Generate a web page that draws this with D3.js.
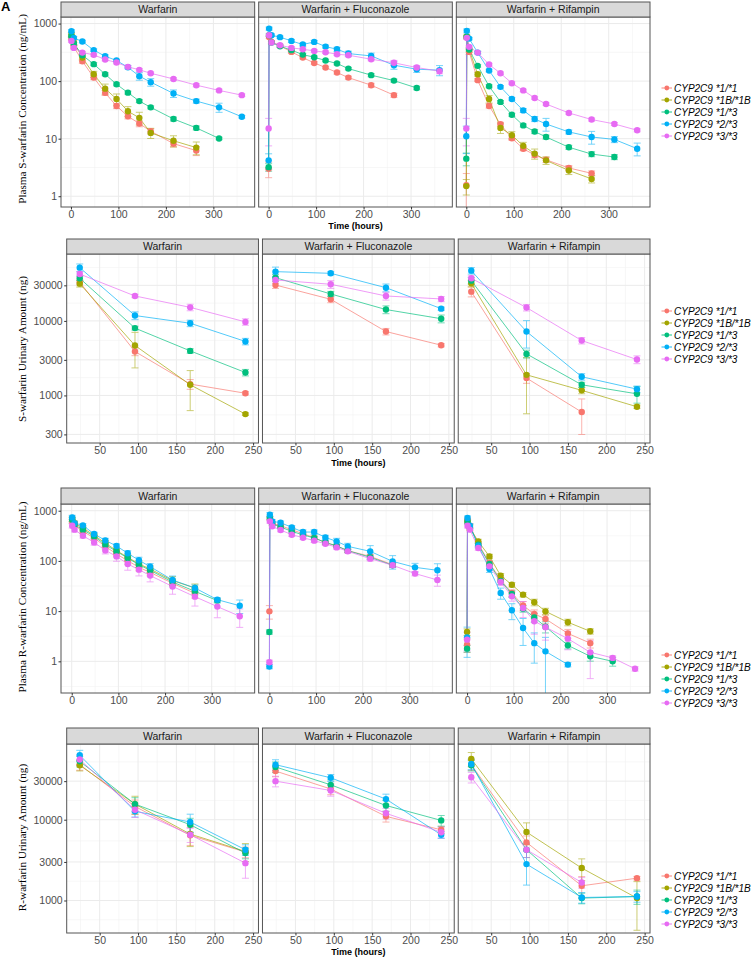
<!DOCTYPE html>
<html><head><meta charset="utf-8">
<script src="https://cdn.jsdelivr.net/npm/d3@7"></script>
<style>body{margin:0;background:#fff}svg{display:block}</style>
</head><body>
<svg id="chart" width="752" height="961"></svg>
<script>
// ---------- DATA ----------
const genotypes = ["CYP2C9 *1/*1", "CYP2C9 *1B/*1B", "CYP2C9 *1/*3", "CYP2C9 *2/*3", "CYP2C9 *3/*3"];
const colors = ["#F8766D", "#A3A500", "#00BF7D", "#00B0F6", "#E76BF3"];
const facets = ["Warfarin", "Warfarin + Fluconazole", "Warfarin + Rifampin"];
const plasmaTimes = [0, 1, 6, 24, 48, 72, 96, 120, 144, 168, 216, 264, 312, 360];
const urineTimes = [24, 96, 168, 240];
const plasmaXTicks = [0, 100, 200, 300];
const urineXTicks = [50, 100, 150, 200, 250];
const plasmaYTicks = [1, 10, 100, 1000];
const sUrineYTicks = [300, 1000, 3000, 10000, 30000];
const rUrineYTicks = [1000, 3000, 10000, 30000];
const yTitles = ["Plasma S-warfarin Concentration (ng/mL)", "S-warfarin Urinary Amount (ng)",
                 "Plasma R-warfarin Concentration (ng/mL)", "R-warfarin Urinary Amount (ng)"];

// Row 1: plasma S-warfarin (ng/mL), series order = genotypes
const sPlasmaWarfarin = [
  [null, 550, 394, 222, 115, 62.5, 37, 24.5, 18.3, 13.5, 8.2, 6.2, null, null],
  [null, 644, 468, 256, 132, 74, 49, 30, 23, 12.6, 9.2, 7.0, null, null],
  [null, 603, 450, 282, 197, 132, 88, 63, 45, 35, 22, 15.4, 10.1, null],
  [null, 736, 564, 487, 345, 271, 228, 174, 122, 96, 61, 45, 35, 24],
  [null, 500, 378, 313, 286, 237, 210, 177, 157, 137, 109, 85, 69, 57]];
const sPlasmaFluconazole = [
  [3.0, 586, 480, 410, 322, 256, 207, 172, 141, 115, 85, 57, null, null],
  [],
  [3.2, 627, 468, 404, 345, 289, 260, 228, 202, 165, 127, 102, 76, null],
  [4.2, 818, 627, 580, 500, 432, 480, 398, 358, 301, 274, 189, 161, 155],
  [15, 627, 468, 421, 378, 358, 335, 318, 293, 282, 240, 208, 172, 149]];
const sPlasmaRifampin = [
  [1.55, 571, 322, 104, 37, 17.8, 10.2, 6.7, 5.2, 4.3, 3.1, 2.5, null, null],
  [1.5, 600, 353, 132, 49, 15.4, 11.5, 7.5, 5.5, 4.2, 2.8, 2.0, null, null],
  [4.5, 586, 353, 184, 81.5, 43.5, 26, 17, 13.3, 10.7, 7.1, 5.4, 4.8, null],
  [11, 747, 548, 313, 153, 79.5, 49, 31, 22, 18, 13.1, 10.7, 9.7, 6.7],
  [15, 564, 394, 313, 194, 137, 92, 69, 51, 40, 28, 21.5, 18, 14]];
// relative error bar half-widths
const sPlasmaWarfarinErr = [
  [null, .06, .06, .08, .08, .1, .1, .1, .12, .1, .12, .18, null, null],
  [null, .08, .1, .1, .12, .2, .22, .2, .25, .2, .22, .25, null, null],
  [null, .05, .05, .05, .06, .06, .06, .06, .06, .06, .08, .08, .05, null],
  [null, .06, .05, .05, .05, .06, .05, .06, .15, .15, .15, .08, .18, .05],
  [null, .05, .05, .05, .05, .05, .05, .05, .05, .05, .05, .06, .05, .05]];
const sPlasmaFluconazoleErr = [
  [.3, .05, .05, .05, .05, .05, .05, .05, .06, .06, .08, .08, null, null],
  [],
  [.15, .05, .05, .05, .05, .05, .05, .05, .05, .05, .06, .06, .07, null],
  [.3, .06, .05, .05, .06, .06, .06, .06, .08, .1, .12, .15, .12, .2],
  [.5, .05, .05, .05, .05, .05, .05, .05, .05, .06, .06, .1, .08, .1]];
const sPlasmaRifampinErr = [
  [.6, .06, .1, .06, .08, .08, .08, .08, .1, .1, .1, .1, null, null],
  [.3, .06, .1, .08, .15, .2, .15, .15, .2, .15, .15, .15, null, null],
  [.25, .05, .05, .05, .06, .06, .06, .06, .08, .08, .08, .1, .1, null],
  [.5, .08, .05, .05, .05, .05, .05, .08, .1, .25, .08, .25, .12, .25],
  [.5, .05, .05, .05, .05, .05, .05, .05, .05, .05, .05, .06, .06, .06]];

// Row 2: S-warfarin urinary amount (ng)
const sUrineWarfarin = [
  [33000, 3880, 1420, 1070], [31600, 4680, 1390, 562], [37300, 8000, 3960, 2030],
  [51800, 11800, 9300, 5300], [42500, 21600, 15200, 9700]];
const sUrineFluconazole = [
  [30300, 19500, 7200, 4720], [], [38000, 23000, 14200, 10700],
  [45800, 43500, 27900, 14600], [35400, 31000, 21600, 19700]];
const sUrineRifampin = [
  [24700, 1710, 598, null], [31900, 1890, 1170, 705], [34700, 3610, 1390, 1050],
  [47200, 7200, 1780, 1215], [37300, 15100, 5450, 3030]];
const sUrineWarfarinErr = [[.08, .12, .15, .05], [.1, .5, .55, .04], [.07, .06, .07, .1], [.12, .12, .1, .1], [.08, .05, .1, .1]];
const sUrineFluconazoleErr = [[.1, .1, .1, .05], [], [.1, .08, .12, .12], [.15, .05, .12, .05], [.1, .12, .12, .08]];
const sUrineRifampinErr = [[.15, .15, .5, null], [.1, .7, .1, .05], [.1, .12, .08, .25], [.1, .4, .1, .1], [.08, .1, .1, .12]];

// Row 3: plasma R-warfarin (ng/mL)
const rPlasmaWarfarin = [
  [null, 614, 510, 388, 286, 195, 137, 101, 74.5, 59, 36, 22.6, null, null],
  [null, 682, 567, 452, 323, 227, 160, 118, 87, 69, 40.5, 28.9, null, null],
  [null, 662, 526, 419, 308, 210, 155, 114, 84, 65, 38, 24.8, 16.2, null],
  [null, 736, 567, 510, 343, 256, 198, 142, 103, 77, 41.6, 28.9, 16.9, 12.8],
  [null, 502, 419, 318, 234, 162, 123, 87, 67, 51, 31, 19.4, 12.3, 7.9]];
const rPlasmaFluconazole = [
  [9.9, 700, 560, 502, 419, 348, 290, 231, 198, 160, 123, 84, null, null],
  [],
  [3.85, 720, 543, 473, 388, 330, 286, 234, 200, 160, 118, 82, null, null],
  [0.79, 832, 614, 577, 466, 376, 376, 294, 245, 195, 155, 98, 74.5, 65],
  [0.96, 614, 488, 412, 333, 290, 253, 220, 186, 155, 111, 82, 56, 41.7]];
const rPlasmaRifampin = [
  [2.15, 650, 500, 220, 91, 42, 23, 12.9, 8.8, 7.0, 3.6, 2.3, null, null],
  [3.85, 614, 452, 245, 123, 51, 33.6, 21.3, 15, 9.9, 6.0, 3.96, null, null],
  [1.79, 600, 480, 210, 87, 40, 22, 11.2, 7.5, 4.9, 2.08, 1.26, 1.0, null],
  [3.0, 714, 500, 201, 69, 23, 10.4, 4.6, 2.3, 1.58, 0.86, null, null, null],
  [2.7, 502, 420, 181, 78, 38, 19.7, 11.5, 6.3, 4.8, 2.83, 1.51, 1.17, 0.71]];
const rPlasmaWarfarinErr = [
  [null, .1, .1, .1, .1, .12, .12, .15, .15, .15, .15, .2, null, null],
  [null, .1, .1, .1, .1, .12, .12, .15, .15, .15, .2, .2, null, null],
  [null, .1, .1, .1, .1, .1, .1, .12, .12, .12, .15, .15, .1, null],
  [null, .1, .08, .08, .08, .1, .1, .12, .15, .15, .2, .15, .1, .3],
  [null, .1, .1, .1, .12, .15, .2, .25, .25, .25, .3, .35, .4, .4]];
const rPlasmaFluconazoleErr = [
  [.3, .08, .08, .08, .08, .08, .08, .08, .08, .08, .1, .1, null, null],
  [],
  [.1, .08, .08, .08, .08, .08, .08, .08, .08, .08, .1, .1, null, null],
  [.1, .1, .08, .08, .08, .1, .1, .1, .15, .15, .3, .3, .2, .35],
  [.1, .08, .08, .08, .08, .08, .08, .08, .08, .08, .1, .1, .1, .25]];
const rPlasmaRifampinErr = [
  [.3, .1, .1, .1, .1, .1, .15, .2, .2, .2, .2, .2, null, null],
  [.15, .1, .1, .1, .1, .1, .1, .1, .15, .15, .15, .12, null, null],
  [.15, .1, .1, .1, .1, .15, .15, .15, .2, .25, .15, .2, .2, null],
  [.6, .1, .1, .1, .15, .25, .35, .55, .6, .9, .1, null, null, null],
  [.4, .1, .1, .1, .1, .15, .2, .35, .45, .45, .4, .7, .1, .1]];

// Row 4: R-warfarin urinary amount (ng)
const rUrineWarfarin = [
  [48100, 14600, 6400, 3980], [47200, 15600, 6640, 4050], [52900, 15600, 8670, 3860],
  [62800, 12700, 9360, 4250], [55500, 13300, 6520, 2900]];
const rUrineFluconazole = [
  [40000, 24000, 11000, 7500], [], [45000, 27000, 15000, 9800],
  [48000, 33000, 18000, 6500], [30000, 23000, 12000, 7000]];
const rUrineRifampin = [
  [48000, 5240, 1520, 1890], [56500, 7030, 2520, 1070], [47200, 4250, 1070, 1120],
  [49000, 2820, 1090, 1120], [33500, 4250, 1670, null]];
const rUrineWarfarinErr = [[.15, .2, .25, .15], [.15, .25, .3, .25], [.15, .2, .2, .15], [.15, .15, .25, .15], [.15, .2, .2, .35]];
const rUrineFluconazoleErr = [[.15, .15, .15, .1], [], [.15, .15, .15, .15], [.15, .1, .15, .1], [.15, .15, .15, .15]];
const rUrineRifampinErr = [[.15, .2, .3, .05], [.2, .3, .3, .6], [.15, .2, .15, .2], [.15, .45, .15, .15], [.15, .2, .15, null]];

// ---------- LAYOUT ----------
const svg = d3.select("#chart");
const F_SANS = "'Liberation Sans', Arial, sans-serif";
const F_SERIF = "'Liberation Serif', 'Times New Roman', serif";
const panelRight = 650, gap = 4;
const TICK_FS = 10.5;

const rows = [
  {times: plasmaTimes, data: [sPlasmaWarfarin, sPlasmaFluconazole, sPlasmaRifampin],
   err: [sPlasmaWarfarinErr, sPlasmaFluconazoleErr, sPlasmaRifampinErr],
   xTicks: plasmaXTicks, yTicks: plasmaYTicks, xDomain: [-21, 387], yDomain: [0.65, 1300],
   stripTop: 2, panelTop: 17, panelBottom: 207, L: 61, xTitleY: 229, legendY: 88, xTitle: true, yTitleC: 109},
  {times: urineTimes, data: [sUrineWarfarin, sUrineFluconazole, sUrineRifampin],
   err: [sUrineWarfarinErr, sUrineFluconazoleErr, sUrineRifampinErr],
   xTicks: urineXTicks, yTicks: sUrineYTicks, xDomain: [7, 257], yDomain: [230, 79000],
   stripTop: 239, panelTop: 254, panelBottom: 443, L: 66.7, xTitleY: 466, legendY: 311, xTitle: true, yTitleC: 349},
  {times: plasmaTimes, data: [rPlasmaWarfarin, rPlasmaFluconazole, rPlasmaRifampin],
   err: [rPlasmaWarfarinErr, rPlasmaFluconazoleErr, rPlasmaRifampinErr],
   xTicks: plasmaXTicks, yTicks: plasmaYTicks, xDomain: [-23, 392], yDomain: [0.234, 1360],
   stripTop: 488, panelTop: 504, panelBottom: 693, L: 61, xTitleY: 713, legendY: 655, xTitle: false, yTitleC: 597},
  {times: urineTimes, data: [rUrineWarfarin, rUrineFluconazole, rUrineRifampin],
   err: [rUrineWarfarinErr, rUrineFluconazoleErr, rUrineRifampinErr],
   xTicks: urineXTicks, yTicks: rUrineYTicks, xDomain: [7, 257], yDomain: [396, 86500],
   stripTop: 728, panelTop: 744, panelBottom: 933, L: 66.7, xTitleY: 955, legendY: 876, xTitle: true, yTitleC: 837.5}
];

function minorBreaks(ticks, log) {
  const out = [];
  const f = log ? (a, b) => Math.sqrt(a * b) : (a, b) => (a + b) / 2;
  for (let i = 0; i < ticks.length - 1; i++) out.push(f(ticks[i], ticks[i + 1]));
  const n = ticks.length;
  if (log) {
    out.push(ticks[0] / Math.sqrt(ticks[1] / ticks[0]));
    out.push(ticks[n - 1] * Math.sqrt(ticks[n - 1] / ticks[n - 2]));
  } else {
    const st = ticks[1] - ticks[0];
    out.push(ticks[0] - st / 2, ticks[n - 1] + st / 2);
  }
  return out;
}

// panel label
svg.append("text").attr("x", 1).attr("y", 11).attr("font-family", F_SANS)
  .attr("font-weight", "bold").attr("font-size", 13).attr("fill", "#000").text("A");

// y-title font size fitted to the reference length of the first title (~192 px)
const probe = svg.append("text").attr("font-family", F_SERIF).attr("font-size", 11).text(yTitles[0]);
const probeLen = probe.node().getComputedTextLength();
probe.remove();
const yTitleFs = Math.max(9, Math.min(13, 11 * 190 / probeLen));

rows.forEach((row, ri) => {
  const pw = (panelRight - row.L - 2 * gap) / 3;
  const ph = row.panelBottom - row.panelTop;
  const y = d3.scaleLog().domain(row.yDomain).range([row.panelBottom, row.panelTop]);

  facets.forEach((facet, fi) => {
    const x0 = row.L + fi * (pw + gap);
    const x = d3.scaleLinear().domain(row.xDomain).range([x0, x0 + pw]);
    const g = svg.append("g");
    g.append("rect").attr("x", x0).attr("y", row.panelTop).attr("width", pw).attr("height", ph).attr("fill", "#fff");
    const xMinor = minorBreaks(row.xTicks, false).filter(v => v > row.xDomain[0] && v < row.xDomain[1]);
    const yMinor = minorBreaks(row.yTicks, true).filter(v => v > row.yDomain[0] && v < row.yDomain[1]);
    g.selectAll(null).data(xMinor).join("line").attr("x1", d => x(d)).attr("x2", d => x(d))
      .attr("y1", row.panelTop).attr("y2", row.panelBottom).attr("stroke", "#f2f2f2").attr("stroke-width", 0.6);
    g.selectAll(null).data(yMinor).join("line").attr("y1", d => y(d)).attr("y2", d => y(d))
      .attr("x1", x0).attr("x2", x0 + pw).attr("stroke", "#f2f2f2").attr("stroke-width", 0.6);
    g.selectAll(null).data(row.xTicks).join("line").attr("x1", d => x(d)).attr("x2", d => x(d))
      .attr("y1", row.panelTop).attr("y2", row.panelBottom).attr("stroke", "#ebebeb").attr("stroke-width", 1);
    g.selectAll(null).data(row.yTicks).join("line").attr("y1", d => y(d)).attr("y2", d => y(d))
      .attr("x1", x0).attr("x2", x0 + pw).attr("stroke", "#ebebeb").attr("stroke-width", 1);

    const dataSets = row.data[fi];
    const errSets = row.err[fi];
    const clipId = `clip${ri}_${fi}`;
    svg.append("clipPath").attr("id", clipId).append("rect")
      .attr("x", x0).attr("y", row.panelTop).attr("width", pw).attr("height", ph);
    const plot = g.append("g").attr("clip-path", `url(#${clipId})`);
    const series = dataSets.map((vals, si) => ({
      si, pts: vals.map((v, i) => ({t: row.times[i], v, e: (errSets[si] || [])[i]}))
        .filter(p => p.v != null)
    })).filter(s => s.pts.length);

    series.forEach(s => {
      s.pts.forEach(p => {
        if (p.e == null) return;
        const lo = y(p.v * (1 - p.e)), hi = y(p.v * (1 + p.e)), cx = x(p.t);
        const eg = plot.append("g").attr("stroke", colors[s.si]).attr("stroke-width", 0.9).attr("opacity", 0.6);
        eg.append("line").attr("x1", cx).attr("x2", cx).attr("y1", lo).attr("y2", hi);
        eg.append("line").attr("x1", cx - 3.5).attr("x2", cx + 3.5).attr("y1", lo).attr("y2", lo);
        eg.append("line").attr("x1", cx - 3.5).attr("x2", cx + 3.5).attr("y1", hi).attr("y2", hi);
      });
    });
    const line = d3.line().x(d => x(d.t)).y(d => y(d.v));
    series.forEach(s => {
      plot.append("path").datum(s.pts).attr("d", line).attr("fill", "none")
        .attr("stroke", colors[s.si]).attr("stroke-width", 0.85).attr("opacity", 0.8);
    });
    series.forEach(s => {
      plot.selectAll(null).data(s.pts).join("circle").attr("cx", d => x(d.t)).attr("cy", d => y(d.v))
        .attr("r", 3.2).attr("fill", colors[s.si]);
    });

    g.append("rect").attr("x", x0).attr("y", row.panelTop).attr("width", pw).attr("height", ph)
      .attr("fill", "none").attr("stroke", "#555").attr("stroke-width", 1);
    g.append("rect").attr("x", x0).attr("y", row.stripTop).attr("width", pw).attr("height", row.panelTop - row.stripTop)
      .attr("fill", "#d9d9d9").attr("stroke", "#555").attr("stroke-width", 1);
    g.append("text").attr("x", x0 + pw / 2).attr("y", (row.stripTop + row.panelTop) / 2).attr("dy", "0.36em")
      .attr("text-anchor", "middle").attr("font-family", F_SANS).attr("font-size", 10.5).attr("fill", "#1a1a1a").text(facet);

    const xa = g.append("g").attr("transform", `translate(0,${row.panelBottom})`)
      .call(d3.axisBottom(x).tickValues(row.xTicks).tickSize(2.5).tickPadding(1).tickFormat(d3.format("d")));
    xa.select(".domain").remove();
    xa.selectAll("line").attr("stroke", "#333");
    xa.selectAll("text").attr("font-family", F_SANS).attr("font-size", TICK_FS).attr("fill", "#4d4d4d");
    if (fi === 0) {
      const ya = g.append("g").attr("transform", `translate(${x0},0)`)
        .call(d3.axisLeft(y).tickValues(row.yTicks).tickSize(2.5).tickPadding(1.5).tickFormat(d3.format("d")));
      ya.select(".domain").remove();
      ya.selectAll("line").attr("stroke", "#333");
      ya.selectAll("text").attr("font-family", F_SANS).attr("font-size", TICK_FS).attr("fill", "#4d4d4d");
    }
  });

  svg.append("text").attr("transform", `translate(22,${row.yTitleC}) rotate(-90)`)
    .attr("dy", "0.35em").attr("text-anchor", "middle").attr("font-family", F_SERIF).attr("font-size", yTitleFs)
    .attr("fill", "#000").text(yTitles[ri]);
  if (row.xTitle) {
    svg.append("text").attr("x", row.L + (panelRight - row.L) / 2).attr("y", row.xTitleY)
      .attr("text-anchor", "middle").attr("font-family", F_SANS).attr("font-size", 9).attr("font-weight", "bold")
      .attr("fill", "#000").text("Time (hours)");
  }
  const lg = svg.append("g");
  genotypes.forEach((gname, gi) => {
    const ly = row.legendY + gi * 12;
    lg.append("line").attr("x1", 661.5).attr("x2", 672).attr("y1", ly).attr("y2", ly)
      .attr("stroke", colors[gi]).attr("stroke-width", 0.9);
    lg.append("circle").attr("cx", 666.8).attr("cy", ly).attr("r", 2.4).attr("fill", colors[gi]);
    lg.append("text").attr("x", 674).attr("y", ly).attr("dy", "0.35em").attr("font-family", F_SANS)
      .attr("font-style", "italic").attr("font-size", 10).attr("fill", "#000").text(gname);
  });
});
</script>
</body></html>
